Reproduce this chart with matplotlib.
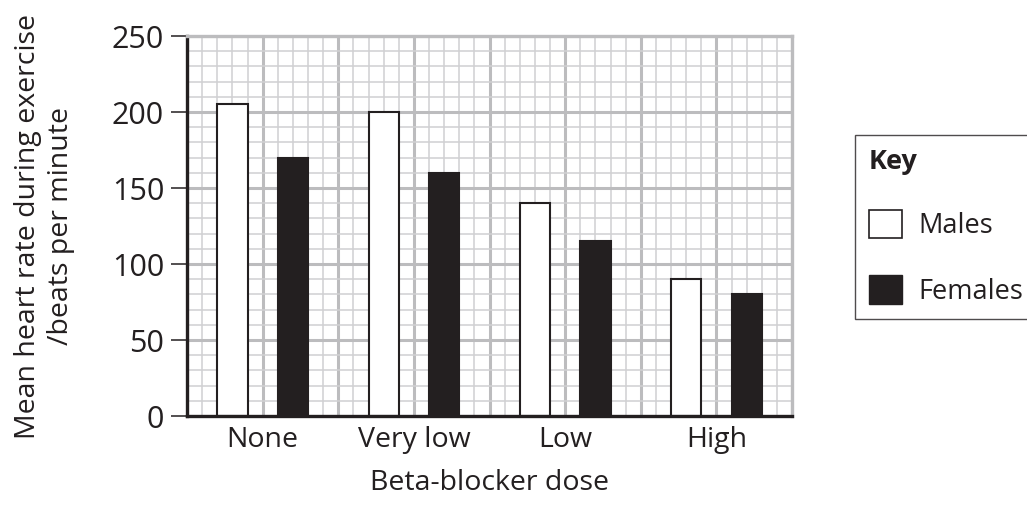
import matplotlib
matplotlib.use("Agg")
import matplotlib.pyplot as plt
from matplotlib.patches import Patch
from matplotlib.ticker import MultipleLocator, FuncFormatter
import numpy as np

# data
doses = ["None", "Very low", "Low", "High"]
males = [205, 200, 140, 90]
females = [170, 160, 115, 80]

INK = "#231f20"
MAJOR = "#bcbcbe"
MINOR = "#d0d0d2"

plt.rcParams["font.family"] = ["Open Sans", "DejaVu Sans"]
plt.rcParams["font.size"] = 20.5

fig = plt.figure(figsize=(10.27, 5.11), dpi=100)
ax = fig.add_axes([0.1821, 0.1859, 0.5891, 0.7436])

x = np.arange(len(doses))
w = 0.2
ax.bar(x - w, males, width=w, color="white", edgecolor=INK, linewidth=1.5, label="Males")
ax.bar(x + w, females, width=w, color=INK, edgecolor=INK, linewidth=1.5, label="Females")

ax.set_xlim(-0.5, len(doses) - 0.5)
ax.set_ylim(0, 250)

# graph paper grid
ax.set_axisbelow(True)
ax.xaxis.set_major_locator(MultipleLocator(0.5))
ax.xaxis.set_minor_locator(MultipleLocator(0.1))
ax.yaxis.set_major_locator(MultipleLocator(50))
ax.yaxis.set_minor_locator(MultipleLocator(10))
ax.grid(which="major", color=MAJOR, linewidth=2.2)
ax.grid(which="minor", color=MINOR, linewidth=1.1)


def dose_label(v, pos):
    i = int(round(v))
    if abs(v - i) < 1e-6 and 0 <= i < len(doses):
        return doses[i]
    return ""


ax.xaxis.set_major_formatter(FuncFormatter(dose_label))
ax.tick_params(axis="x", which="both", length=0, pad=7, labelsize=20.5, colors=INK)
ax.tick_params(axis="y", which="major", length=11.5, width=1.1, pad=5, labelsize=22, colors=INK)
ax.tick_params(axis="y", which="minor", length=0)

for side in ["left", "bottom"]:
    ax.spines[side].set_color(INK)
    ax.spines[side].set_linewidth(2.4)
for side in ["top", "right"]:
    ax.spines[side].set_color(MAJOR)
    ax.spines[side].set_linewidth(2.4)

ax.set_ylabel("Mean heart rate during exercise\n/beats per minute", fontsize=20.5,
              color=INK, linespacing=1.25)
ax.yaxis.set_label_coords(-0.185, 0.5)
ax.set_xlabel("Beta-blocker dose", fontsize=20.5, color=INK)
ax.xaxis.set_label_coords(0.5, -0.14)

handles = [Patch(facecolor="white", edgecolor=INK, linewidth=1.2, label="Males"),
           Patch(facecolor=INK, edgecolor=INK, label="Females")]
leg = fig.legend(handles=handles, title="Key", loc="upper left",
                 bbox_to_anchor=(855 / 1027, 1 - 135 / 511),
                 fontsize=19.5, title_fontproperties={"weight": "bold", "size": 19.5},
                 handlelength=1.25, handleheight=1.25, handletextpad=0.6,
                 labelspacing=1.3, borderpad=0.5, borderaxespad=0,
                 fancybox=False, frameon=True, alignment="left")
leg.get_frame().set_edgecolor(INK)
leg.get_frame().set_linewidth(1.0)
for t in leg.get_texts():
    t.set_color(INK)
leg.get_title().set_color(INK)

fig.savefig("out.png", dpi=100)
